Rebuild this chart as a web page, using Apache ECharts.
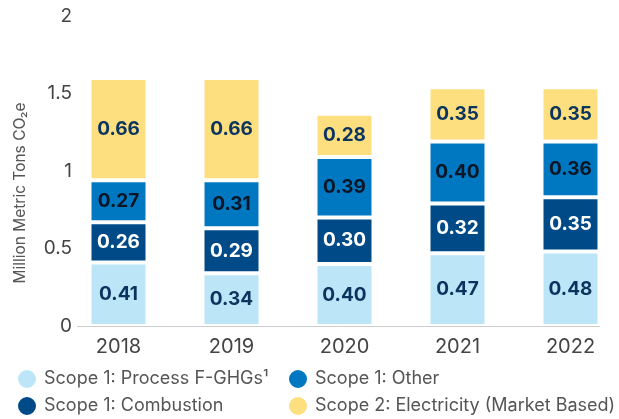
<!DOCTYPE html>
<html>
<head>
<meta charset="utf-8">
<script src="https://cdn.jsdelivr.net/npm/echarts@6/dist/echarts.min.js"></script>
<style>
  html, body { margin: 0; padding: 0; background: #fff; }
  #chart { width: 619px; height: 419px; }
</style>
</head>
<body>
<div id="chart"></div>
<script>
var years = ["2018", "2019", "2020", "2021", "2022"];
var processFGHG = [0.41, 0.34, 0.40, 0.47, 0.48];
var combustion = [0.26, 0.29, 0.30, 0.32, 0.35];
var other = [0.27, 0.31, 0.39, 0.40, 0.36];
var electricity = [0.66, 0.66, 0.28, 0.35, 0.35];

var FONT = "Inter";
var chart = echarts.init(document.getElementById("chart"));

function seg(name, data, color, textColor) {
  return {
    name: name,
    type: "bar",
    stack: "total",
    barWidth: 58,
    data: data,
    itemStyle: { color: color, borderColor: "#fff", borderWidth: 2 },
    label: {
      show: true,
      position: "inside",
      formatter: function (p) { return p.value.toFixed(2); },
      color: textColor,
      fontFamily: FONT,
      fontWeight: 700,
      fontSize: 19
    }
  };
}

var legendText = { fontFamily: FONT, fontSize: 18, color: "#555", padding: [0, 0, 0, 2] };

var option = {
  animation: false,
  textStyle: { fontFamily: FONT },
  grid: { left: 62, right: -8, top: 16, bottom: 93, outerBoundsMode: "none" },
  legend: [
    {
      data: ["Scope 1: Process F-GHGs¹", "Scope 1: Combustion"],
      orient: "vertical", left: 16, top: 368, padding: 0, height: 50,
      icon: "circle", itemWidth: 20, itemHeight: 20, itemGap: 5,
      textStyle: legendText
    },
    {
      data: ["Scope 1: Other", "Scope 2: Electricity (Market Based)"],
      orient: "vertical", left: 287, top: 368, padding: 0, height: 50,
      icon: "circle", itemWidth: 20, itemHeight: 20, itemGap: 5,
      textStyle: legendText
    }
  ],
  xAxis: {
    type: "category",
    data: years,
    axisLine: { show: false },
    axisTick: { show: false },
    axisLabel: { fontFamily: FONT, fontSize: 20, color: "#444", margin: 11 }
  },
  yAxis: {
    type: "value",
    min: 0, max: 2, interval: 0.5,
    name: "Million Metric Tons CO₂e",
    nameLocation: "middle",
    nameGap: 34,
    nameMoveOverlap: false,
    nameTextStyle: { fontFamily: FONT, fontSize: 15.5, color: "#555", padding: [0, 44, 0, 0] },
    axisLine: { show: false },
    axisTick: { show: false },
    splitLine: { show: false },
    axisLabel: { fontFamily: FONT, fontSize: 19, color: "#444", margin: -10 }
  },
  graphic: [
    { type: "line", shape: { x1: 77, y1: 326.5, x2: 600, y2: 326.5 }, style: { stroke: "#ccc", lineWidth: 1 } }
  ],
  series: [
    seg("Scope 1: Process F-GHGs¹", processFGHG, "#bde5f8", "#0b355f"),
    seg("Scope 1: Combustion", combustion, "#004b87", "#ffffff"),
    seg("Scope 1: Other", other, "#0078c1", "#0a1626"),
    seg("Scope 2: Electricity (Market Based)", electricity, "#fddf80", "#0b355f")
  ]
};

chart.setOption(option);
</script>
</body>
</html>
